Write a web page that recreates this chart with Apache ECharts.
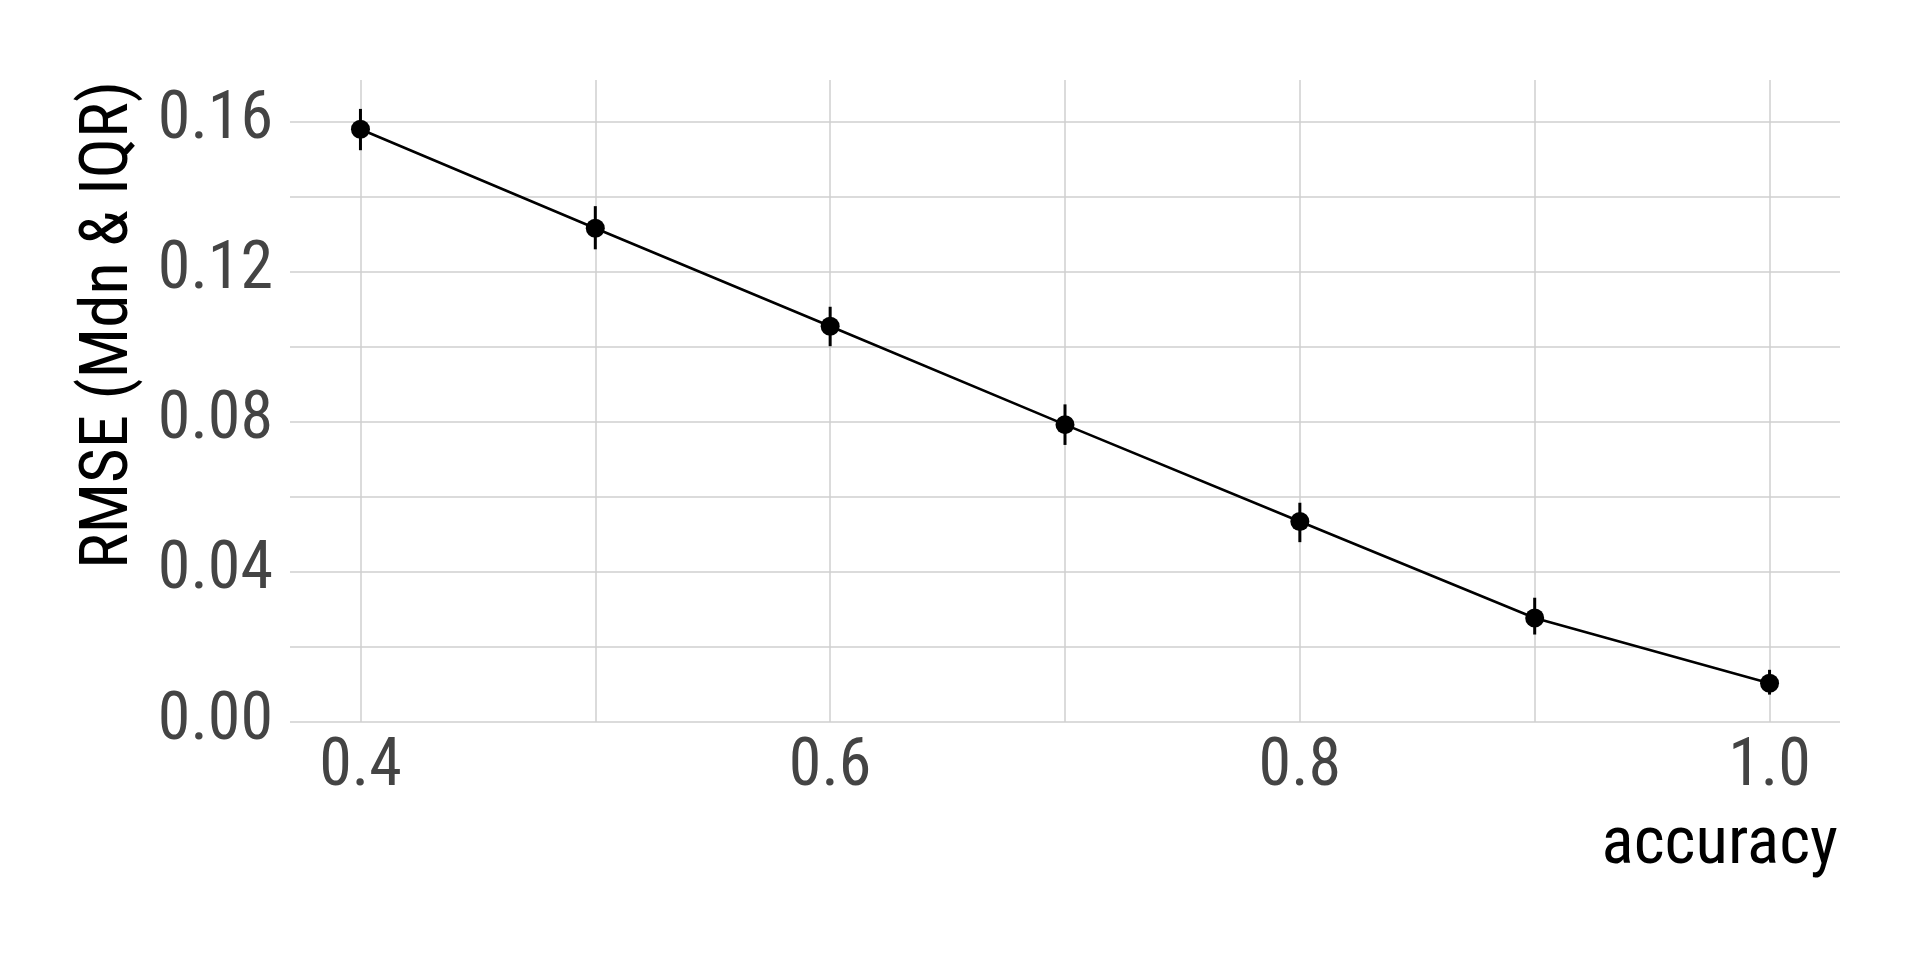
<!DOCTYPE html>
<html>
<head>
<meta charset="utf-8">
<script src="https://cdn.jsdelivr.net/npm/echarts@6/dist/echarts.min.js"></script>
<style>html,body{margin:0;padding:0;background:#fff;}#chart{width:1920px;height:960px;}</style>
</head>
<body>
<div id="chart"></div>
<script>
// Data
const accuracy = [0.4, 0.5, 0.6, 0.7, 0.8, 0.9, 1.0];
const rmseMedian = [0.1579, 0.1315, 0.1054, 0.0792, 0.0534, 0.0277, 0.0103];
const iqrLow  = [0.1523, 0.1259, 0.1001, 0.0738, 0.0479, 0.0233, 0.0073];
const iqrHigh = [0.1633, 0.1374, 0.1106, 0.0846, 0.0584, 0.0331, 0.0139];
const xGridValues = [0.4, 0.5, 0.6, 0.7, 0.8, 0.9, 1.0];
const xLabelValues = [0.4, 0.6, 0.8, 1.0];
const yGridValues = [0, 0.02, 0.04, 0.06, 0.08, 0.10, 0.12, 0.14, 0.16];
const yLabelValues = [0, 0.04, 0.08, 0.12, 0.16];
const xTitle = 'accuracy';
const yTitle = 'RMSE (Mdn & IQR)';

const FONT = "'Roboto Condensed','Liberation Sans Narrow','Arial Narrow',Roboto,sans-serif";
const chart = echarts.init(document.getElementById('chart'), null, {renderer: 'canvas'});

const linePts = accuracy.map((a, i) => [a, rmseMedian[i]]);
const errPts = accuracy.map((a, i) => [a, iqrLow[i], iqrHigh[i]]);

chart.setOption({
  backgroundColor: '#ffffff',
  animation: false,
  grid: {left: 290, right: 80, top: 80, bottom: 238, containLabel: false},
  xAxis: {
    type: 'value', min: 0.37, max: 1.03,
    axisLine: {show: false},
    axisTick: {show: false, customValues: xGridValues},
    splitLine: {show: true, lineStyle: {color: '#cfcfcf', width: 1.5}},
    axisLabel: {customValues: xLabelValues, formatter: v => v.toFixed(1), color: '#444444', fontSize: 66, fontFamily: FONT, margin: 13}
  },
  yAxis: {
    type: 'value', min: 0, max: 0.171,
    axisLine: {show: false},
    axisTick: {show: false, customValues: yGridValues},
    splitLine: {show: true, lineStyle: {color: '#cfcfcf', width: 1.5}},
    axisLabel: {customValues: yLabelValues, formatter: v => v.toFixed(2), color: '#444444', fontSize: 66, fontFamily: FONT, margin: 17}
  },
  graphic: [
    {type: 'text', right: 82, top: 813, style: {text: xTitle, fill: '#000', font: '67px ' + FONT}},
    {type: 'text', x: 110, y: 81, rotation: Math.PI / 2,
     style: {text: yTitle, fill: '#000', font: '67px ' + FONT, align: 'right', verticalAlign: 'middle'}}
  ],
  series: [
    {
      type: 'custom',
      data: errPts,
      renderItem: function (params, api) {
        const x = api.value(0);
        const p1 = api.coord([x, api.value(1)]);
        const p2 = api.coord([x, api.value(2)]);
        return {type: 'line', shape: {x1: p1[0], y1: p1[1], x2: p2[0], y2: p2[1]}, style: {stroke: '#000', lineWidth: 3}};
      },
      z: 2
    },
    {
      type: 'line',
      data: linePts,
      symbol: 'circle',
      symbolSize: 19,
      lineStyle: {color: '#000', width: 2.6},
      itemStyle: {color: '#000'},
      z: 3
    }
  ]
});
</script>
</body>
</html>
